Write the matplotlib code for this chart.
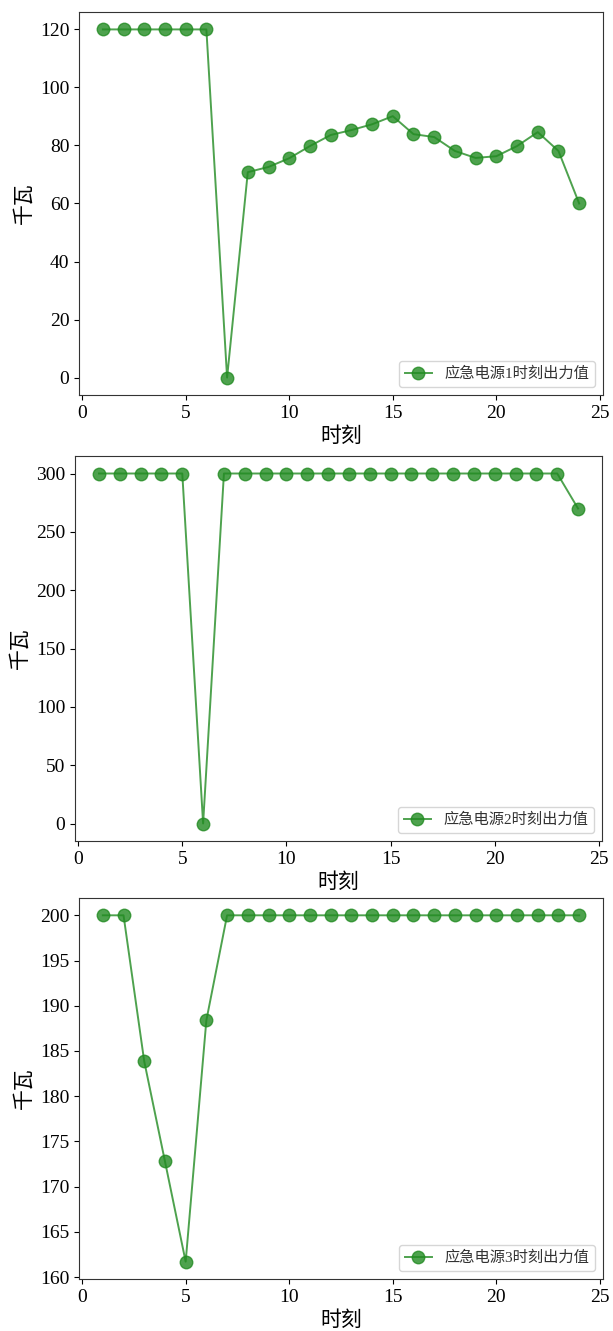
import matplotlib
matplotlib.use("Agg")
import matplotlib.pyplot as plt

plt.rcParams['font.family'] = ['Liberation Serif', 'Noto Sans CJK SC']
plt.rcParams['axes.unicode_minus'] = False

hours = list(range(1, 25))
source1 = [120, 120, 120, 120, 120, 120, 0, 70.8, 72.6, 75.6, 79.8, 83.6, 85.3, 87.3,
           90.1, 83.9, 82.9, 78.1, 75.7, 76.3, 79.8, 84.6, 78.1, 60.0]
source2 = [300, 300, 300, 300, 300, 0, 300, 300, 300, 300, 300, 300, 300, 300,
           300, 300, 300, 300, 300, 300, 300, 300, 300, 270]
source3 = [200, 200, 183.85, 172.8, 161.7, 188.4, 200, 200, 200, 200, 200, 200, 200, 200,
           200, 200, 200, 200, 200, 200, 200, 200, 200, 200]
labels = ['应急电源1时刻出力值', '应急电源2时刻出力值', '应急电源3时刻出力值']
xlabel = '时刻'
ylabel = '千瓦'

fig = plt.figure(figsize=(6.13, 13.31), dpi=100)
positions = [
    [79/613, (1331-395)/1331, 524/613, 383/1331],
    [75/613, (1331-841)/1331, 527/613, 385/1331],
    [79/613, (1331-1279)/1331, 524/613, 381/1331],
]
cjk = ['Noto Sans CJK SC']
mixed = ['Liberation Serif', 'Noto Sans CJK SC']
for pos, data, lab in zip(positions, [source1, source2, source3], labels):
    ax = fig.add_axes(pos)
    ax.plot(hours, data, marker='o', color='forestgreen', alpha=0.8,
            markersize=9, linewidth=1.4, label=lab)
    ax.set_xlabel(xlabel, fontsize=15, family=cjk, fontweight='light', labelpad=2)
    ax.set_ylabel(ylabel, fontsize=15, family=cjk, fontweight='light', labelpad=4)
    ax.tick_params(labelsize=14)
    leg = ax.legend(loc='lower right', prop={'family': mixed, 'size': 11, 'weight': 'light'},
                    handlelength=1.8)
    for t in leg.get_texts():
        t.set_color('#333333')
    for s in ax.spines.values():
        s.set_color('#333333')

fig.savefig('out.png', dpi=100)
